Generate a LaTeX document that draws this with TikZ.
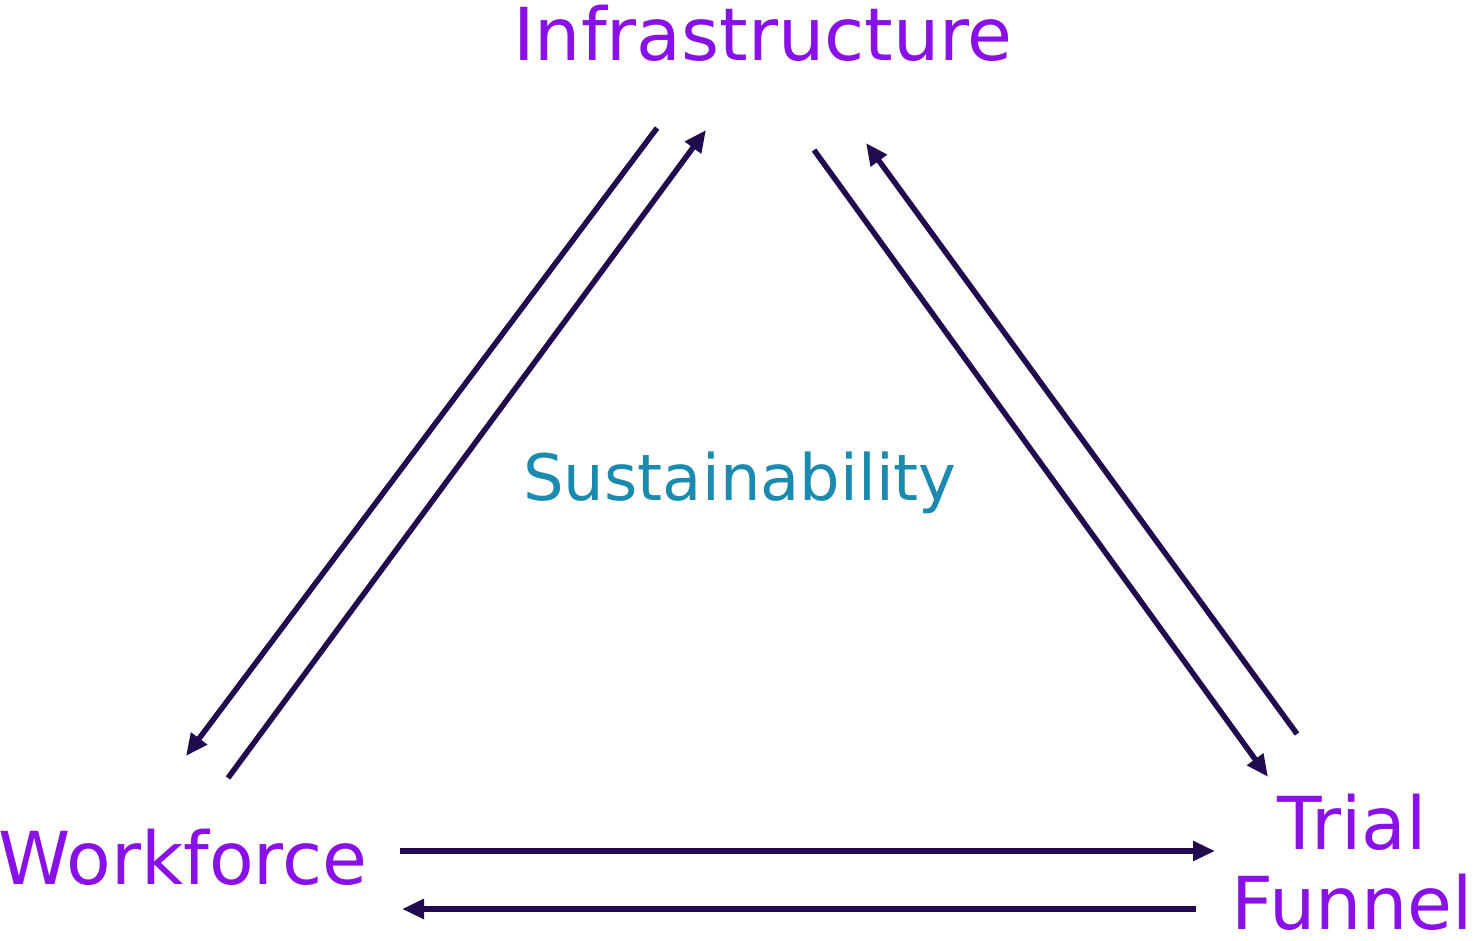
\documentclass[tikz,border=0pt]{standalone}
\usepackage{fontspec}
\setmainfont{DejaVu Sans}
\usetikzlibrary{arrows.meta}
\definecolor{labelpurple}{HTML}{8A10E8}
\definecolor{centerteal}{HTML}{1A8AAE}
\definecolor{arrowdark}{HTML}{220A4E}
\tikzset{corner label/.style={text=labelpurple,font=\fontsize{73}{80}\selectfont,inner sep=0pt},
  middle label/.style={text=centerteal,font=\fontsize{64}{70}\selectfont,inner sep=0pt},
  link/.style={draw=arrowdark,line width=5.5pt,-{Triangle[length=22pt,width=19pt]}}}
\begin{document}
\begin{tikzpicture}[x=1pt,y=-1pt]
  \useasboundingbox (0,0) rectangle (1475,941);
  \node[corner label] (infra) at (763,33) {Infrastructure};
  \node[middle label] (sust) at (740,483) {Sustainability};
  \node[corner label] (work) at (183,857) {Workforce};
  \node[corner label,align=center] (trial) at (1352,862) {Trial\\Funnel};
  % end points of the arrows
  \coordinate (iw1) at (657,128); \coordinate (wi1) at (186,756);
  \coordinate (wi2) at (228,778); \coordinate (iw2) at (706,130);
  \coordinate (it1) at (814,150); \coordinate (ti1) at (1268,777);
  \coordinate (ti2) at (1297,734); \coordinate (it2) at (866,143);
  \coordinate (wt1) at (400,851); \coordinate (tw1) at (1215,851);
  \coordinate (tw2) at (1196,909); \coordinate (wt2) at (402,909);
  \draw[link] (iw1) -- (wi1);
  \draw[link] (wi2) -- (iw2);
  \draw[link] (it1) -- (ti1);
  \draw[link] (ti2) -- (it2);
  \draw[link] (wt1) -- (tw1);
  \draw[link] (tw2) -- (wt2);
\end{tikzpicture}
\end{document}
